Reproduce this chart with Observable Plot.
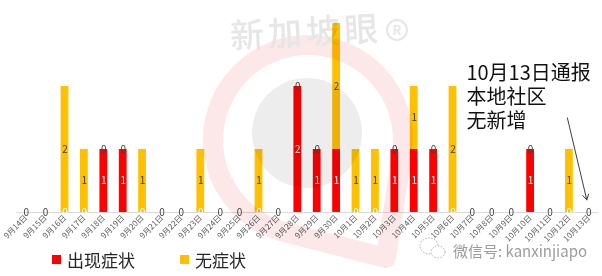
<!DOCTYPE html>
<html>
<head>
<meta charset="utf-8">
<script src="https://cdn.jsdelivr.net/npm/d3@7"></script>
<script src="https://cdn.jsdelivr.net/npm/@observablehq/plot@0.6"></script>
<style>
  body { margin: 0; background: #fff; font-family: "Noto Sans CJK SC", "Noto Sans", sans-serif; }
  #wrap { position: relative; width: 602px; height: 276px; overflow: hidden; background: #fff; }
  #wrap svg.plot { display: block; }
  .legend { display: flex; align-items: center; height: 26px; padding-left: 52px; font-size: 17px; color: #262626; }
  .legend .item { display: flex; align-items: center; }
  .legend .item:first-child { width: 128px; }
  .legend .sw { width: 9px; height: 9px; margin-right: 6px; }
  #brand { position: absolute; left: 0; top: 0; pointer-events: none; mix-blend-mode: multiply; }
</style>
</head>
<body>
<div id="wrap"></div>
<script>
// Daily local community cases, split by symptom status
const dates = [
  "9月14日","9月15日","9月16日","9月17日","9月18日","9月19日","9月20日","9月21日","9月22日","9月23日",
  "9月24日","9月25日","9月26日","9月27日","9月28日","9月29日","9月30日","10月1日","10月2日","10月3日",
  "10月4日","10月5日","10月6日","10月7日","10月8日","10月9日","10月10日","10月11日","10月12日","10月13日"
];
const symptomatic  = [0,0,0,0,1,1,0,0,0,0, 0,0,0,0,2,1,1,0,0,1, 1,1,0,0,0,0,1,0,0,0];
const asymptomatic = [0,0,2,1,0,0,1,0,0,1, 0,0,1,0,0,0,2,1,1,0, 1,0,2,0,0,0,0,0,1,0];
const seriesNames  = ["出现症状", "无症状"];
const seriesColors = ["#FF0000", "#FFC000"];

// Callout about the latest day
const noteLines = ["10月13日通报", "本地社区", "无新增"];
const noteDate = "10月7日";
const arrowFrom = "10月12日";
const arrowTo = "10月13日";

const rows = dates.flatMap((date, i) => [
  {date, type: seriesNames[0], n: symptomatic[i]},
  {date, type: seriesNames[1], n: asymptomatic[i]}
]);

const stackOpts = {x: "date", y: "n", z: "type"};

const chart = Plot.plot({
  width: 602,
  height: 246,
  marginLeft: 16,
  marginRight: 4,
  marginTop: 23,
  marginBottom: 34,
  style: {fontFamily: "'Noto Sans CJK SC', 'Noto Sans', sans-serif", fontSize: "8px", color: "#595959", background: "transparent"},
  x: {domain: dates, paddingInner: 0.6, paddingOuter: 0.3, round: false, tickRotate: -45, tickSize: 0, tickPadding: 4, label: null},
  y: {domain: [0, 3], axis: null},
  color: {domain: seriesNames, range: seriesColors},
  marks: [
    Plot.ruleY([0], {stroke: "#d9d9d9", strokeWidth: 1}),
    Plot.barY(rows, {...stackOpts, fill: "type"}),
    // value labels centred in each stacked segment
    Plot.text(rows, Plot.stackY({...stackOpts,
      text: d => d.type === seriesNames[0] ? String(d.n) : null,
      fill: "white", fontSize: 10})),
    Plot.text(rows, Plot.stackY({...stackOpts,
      text: d => d.type === seriesNames[1] ? String(d.n) : null,
      fill: "#404040", fontSize: 10})),
    Plot.text([noteLines.join("\n")], {
      x: () => noteDate, y: () => 2.38, text: d => d,
      textAnchor: "start", lineAnchor: "top", lineHeight: 1.2, dx: -6,
      fontSize: 20, fill: "#111"}),
    Plot.arrow([0], {
      x1: () => arrowFrom, y1: () => 1.5, x2: () => arrowTo, y2: () => 0.2,
      stroke: "#404040", strokeWidth: 1, headLength: 9, dx: -2})
  ]
});

const wrap = document.getElementById("wrap");
wrap.appendChild(chart);

// legend row
const legend = document.createElement("div");
legend.className = "legend";
seriesNames.forEach((name, i) => {
  const item = document.createElement("div");
  item.className = "item";
  const sw = document.createElement("span");
  sw.className = "sw";
  sw.style.background = seriesColors[i];
  const label = document.createElement("span");
  label.textContent = name;
  item.appendChild(sw);
  item.appendChild(label);
  legend.appendChild(item);
});
wrap.appendChild(legend);

// brand watermark layered over the chart
const brand = d3.select(wrap).append("svg")
  .attr("id", "brand").attr("width", 602).attr("height", 276);

const cx = 308, cy = 140, r = 95, tip = [386, 258];
const dxT = tip[0] - cx, dyT = tip[1] - cy;
const dist = Math.hypot(dxT, dyT);
const base = Math.atan2(dyT, dxT);
const half = Math.acos(r / dist);
const a1 = base - half, a2 = base + half;
const p1 = [cx + r * Math.cos(a1), cy + r * Math.sin(a1)];
const p2 = [cx + r * Math.cos(a2), cy + r * Math.sin(a2)];
brand.append("path")
  .attr("d", `M${tip}L${p1}A${r},${r} 0 1 0 ${p2}Z`)
  .attr("fill", "none").attr("stroke", "#fce8e8").attr("stroke-width", 20)
  .attr("stroke-linejoin", "round");
brand.append("circle").attr("cx", 307).attr("cy", 133).attr("r", 55).attr("fill", "#ededed");

brand.append("text")
  .attr("x", 230).attr("y", 44)
  .attr("transform", "rotate(-3 318 30)")
  .attr("font-size", 34).attr("font-weight", 500)
  .attr("letter-spacing", 4)
  .attr("fill", "#e6e6e6")
  .text("新加坡眼");
brand.append("circle").attr("cx", 397).attr("cy", 30).attr("r", 10)
  .attr("fill", "none").attr("stroke", "#e6e6e6").attr("stroke-width", 2);
brand.append("text").attr("x", 397).attr("y", 35).attr("text-anchor", "middle")
  .attr("font-size", 13).attr("font-weight", 700).attr("fill", "#e6e6e6").text("R");

// account tag, bottom right
brand.append("ellipse").attr("cx", 429).attr("cy", 246).attr("rx", 9).attr("ry", 8)
  .attr("fill", "white").attr("stroke", "#a8a8a8").attr("stroke-dasharray", "1.5 1.5");
brand.append("ellipse").attr("cx", 438).attr("cy", 252).attr("rx", 7).attr("ry", 6)
  .attr("fill", "white").attr("stroke", "#a8a8a8").attr("stroke-dasharray", "1.5 1.5");
brand.append("text").attr("x", 453).attr("y", 257)
  .attr("font-size", 15).attr("fill", "#9c9c9c")
  .text("微信号: kanxinjiapo");
</script>
</body>
</html>
